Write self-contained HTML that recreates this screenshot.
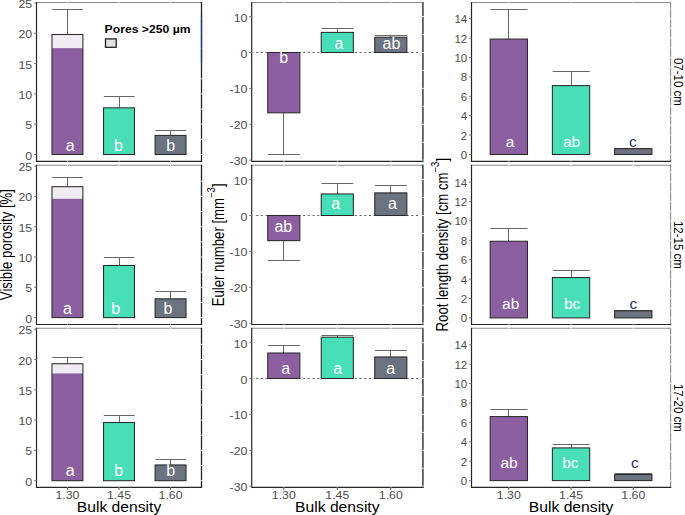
<!DOCTYPE html>
<html><head><meta charset="utf-8"><style>
html,body{margin:0;padding:0;background:#fff;}
svg{display:block;font-family:"Liberation Sans", sans-serif;}
</style></head><body>
<svg width="685" height="515" viewBox="0 0 685 515">
<rect width="685" height="515" fill="#fff"/>
<line x1="36.50" y1="2.50" x2="201.50" y2="2.50" stroke="#8a8a8a" stroke-width="1.1"/>
<line x1="201.50" y1="2.00" x2="201.50" y2="161.30" stroke="#222" stroke-width="1.3"/>
<line x1="67.44" y1="1.00" x2="67.44" y2="162.30" stroke="#fff" stroke-width="0.8"/>
<line x1="119.00" y1="1.00" x2="119.00" y2="162.30" stroke="#fff" stroke-width="0.8"/>
<line x1="170.56" y1="1.00" x2="170.56" y2="162.30" stroke="#fff" stroke-width="0.8"/>
<line x1="37.50" y1="154.50" x2="203.00" y2="154.50" stroke="#fff" stroke-width="0.8"/>
<line x1="37.50" y1="139.35" x2="203.00" y2="139.35" stroke="#fff" stroke-width="0.8"/>
<line x1="37.50" y1="124.20" x2="203.00" y2="124.20" stroke="#fff" stroke-width="0.8"/>
<line x1="37.50" y1="109.05" x2="203.00" y2="109.05" stroke="#fff" stroke-width="0.8"/>
<line x1="37.50" y1="93.90" x2="203.00" y2="93.90" stroke="#fff" stroke-width="0.8"/>
<line x1="37.50" y1="78.75" x2="203.00" y2="78.75" stroke="#fff" stroke-width="0.8"/>
<line x1="37.50" y1="63.60" x2="203.00" y2="63.60" stroke="#fff" stroke-width="0.8"/>
<line x1="37.50" y1="48.45" x2="203.00" y2="48.45" stroke="#fff" stroke-width="0.8"/>
<line x1="37.50" y1="33.30" x2="203.00" y2="33.30" stroke="#fff" stroke-width="0.8"/>
<line x1="37.50" y1="18.15" x2="203.00" y2="18.15" stroke="#fff" stroke-width="0.8"/>
<line x1="201.50" y1="15.5" x2="201.50" y2="64.5" stroke="#1d3a6e" stroke-width="1.3"/>
<line x1="67.50" y1="34.51" x2="67.50" y2="9.50" stroke="#686868" stroke-width="1.0"/>
<line x1="52.27" y1="9.50" x2="82.91" y2="9.50" stroke="#686868" stroke-width="1.0"/>
<rect x="51.97" y="34.51" width="30.94" height="119.99" fill="#F0ECF3"/>
<rect x="51.97" y="48.15" width="30.94" height="106.35" fill="#8C5FA0"/>
<rect x="51.97" y="34.51" width="30.94" height="119.99" fill="none" stroke="#2a2a2a" stroke-width="1.05"/>
<text transform="translate(70.14,150.60) scale(1.0,1)" font-size="16" text-anchor="middle" fill="#fff" font-weight="normal">a</text>
<line x1="119.50" y1="107.84" x2="119.50" y2="96.50" stroke="#686868" stroke-width="1.0"/>
<line x1="103.83" y1="96.50" x2="134.47" y2="96.50" stroke="#686868" stroke-width="1.0"/>
<rect x="103.53" y="107.84" width="30.94" height="46.66" fill="#48DFB8" stroke="#2a2a2a" stroke-width="1.05"/>
<text transform="translate(118.50,150.50) scale(1.0,1)" font-size="16" text-anchor="middle" fill="#fff" font-weight="normal">b</text>
<line x1="170.50" y1="135.41" x2="170.50" y2="130.50" stroke="#686868" stroke-width="1.0"/>
<line x1="155.39" y1="130.50" x2="186.03" y2="130.50" stroke="#686868" stroke-width="1.0"/>
<rect x="155.09" y="135.41" width="30.94" height="19.09" fill="#6B7280" stroke="#2a2a2a" stroke-width="1.05"/>
<text transform="translate(170.66,150.50) scale(1.0,1)" font-size="16" text-anchor="middle" fill="#fff" font-weight="normal">b</text>
<path d="M36.50,2.00V161.30H202.10" fill="none" stroke="#262626" stroke-width="1.2"/>
<line x1="67.44" y1="160.30" x2="67.44" y2="162.10" stroke="#fff" stroke-width="0.8" stroke-opacity="0.75"/>
<line x1="119.00" y1="160.30" x2="119.00" y2="162.10" stroke="#fff" stroke-width="0.8" stroke-opacity="0.75"/>
<line x1="170.56" y1="160.30" x2="170.56" y2="162.10" stroke="#fff" stroke-width="0.8" stroke-opacity="0.75"/>
<line x1="34.10" y1="154.50" x2="36.50" y2="154.50" stroke="#777" stroke-width="1"/>
<text transform="translate(32.20,159.50) scale(1.12,1)" font-size="11" text-anchor="end" fill="#4D4D4D" font-weight="normal">0</text>
<line x1="34.10" y1="124.20" x2="36.50" y2="124.20" stroke="#777" stroke-width="1"/>
<text transform="translate(32.20,129.20) scale(1.12,1)" font-size="11" text-anchor="end" fill="#4D4D4D" font-weight="normal">5</text>
<line x1="34.10" y1="93.90" x2="36.50" y2="93.90" stroke="#777" stroke-width="1"/>
<text transform="translate(32.20,98.90) scale(1.12,1)" font-size="11" text-anchor="end" fill="#4D4D4D" font-weight="normal">10</text>
<line x1="34.10" y1="63.60" x2="36.50" y2="63.60" stroke="#777" stroke-width="1"/>
<text transform="translate(32.20,68.60) scale(1.12,1)" font-size="11" text-anchor="end" fill="#4D4D4D" font-weight="normal">15</text>
<line x1="34.10" y1="33.30" x2="36.50" y2="33.30" stroke="#777" stroke-width="1"/>
<text transform="translate(32.20,38.30) scale(1.12,1)" font-size="11" text-anchor="end" fill="#4D4D4D" font-weight="normal">20</text>
<line x1="34.10" y1="3.00" x2="36.50" y2="3.00" stroke="#777" stroke-width="1"/>
<text transform="translate(32.20,8.00) scale(1.12,1)" font-size="11" text-anchor="end" fill="#4D4D4D" font-weight="normal">25</text>
<line x1="36.50" y1="165.20" x2="201.50" y2="165.20" stroke="#8a8a8a" stroke-width="1.1"/>
<line x1="201.50" y1="164.70" x2="201.50" y2="324.50" stroke="#222" stroke-width="1.3"/>
<line x1="67.44" y1="163.70" x2="67.44" y2="325.50" stroke="#fff" stroke-width="0.8"/>
<line x1="119.00" y1="163.70" x2="119.00" y2="325.50" stroke="#fff" stroke-width="0.8"/>
<line x1="170.56" y1="163.70" x2="170.56" y2="325.50" stroke="#fff" stroke-width="0.8"/>
<line x1="37.50" y1="317.60" x2="203.00" y2="317.60" stroke="#fff" stroke-width="0.8"/>
<line x1="37.50" y1="302.45" x2="203.00" y2="302.45" stroke="#fff" stroke-width="0.8"/>
<line x1="37.50" y1="287.30" x2="203.00" y2="287.30" stroke="#fff" stroke-width="0.8"/>
<line x1="37.50" y1="272.15" x2="203.00" y2="272.15" stroke="#fff" stroke-width="0.8"/>
<line x1="37.50" y1="257.00" x2="203.00" y2="257.00" stroke="#fff" stroke-width="0.8"/>
<line x1="37.50" y1="241.85" x2="203.00" y2="241.85" stroke="#fff" stroke-width="0.8"/>
<line x1="37.50" y1="226.70" x2="203.00" y2="226.70" stroke="#fff" stroke-width="0.8"/>
<line x1="37.50" y1="211.55" x2="203.00" y2="211.55" stroke="#fff" stroke-width="0.8"/>
<line x1="37.50" y1="196.40" x2="203.00" y2="196.40" stroke="#fff" stroke-width="0.8"/>
<line x1="37.50" y1="181.25" x2="203.00" y2="181.25" stroke="#fff" stroke-width="0.8"/>
<line x1="67.50" y1="186.70" x2="67.50" y2="177.50" stroke="#686868" stroke-width="1.0"/>
<line x1="52.27" y1="177.50" x2="82.91" y2="177.50" stroke="#686868" stroke-width="1.0"/>
<rect x="51.97" y="186.70" width="30.94" height="130.90" fill="#F0ECF3"/>
<rect x="51.97" y="198.82" width="30.94" height="118.78" fill="#8C5FA0"/>
<rect x="51.97" y="186.70" width="30.94" height="130.90" fill="none" stroke="#2a2a2a" stroke-width="1.05"/>
<text transform="translate(67.44,313.60) scale(1.0,1)" font-size="16" text-anchor="middle" fill="#fff" font-weight="normal">a</text>
<line x1="119.50" y1="265.48" x2="119.50" y2="257.50" stroke="#686868" stroke-width="1.0"/>
<line x1="103.83" y1="257.50" x2="134.47" y2="257.50" stroke="#686868" stroke-width="1.0"/>
<rect x="103.53" y="265.48" width="30.94" height="52.12" fill="#48DFB8" stroke="#2a2a2a" stroke-width="1.05"/>
<text transform="translate(115.70,313.60) scale(1.0,1)" font-size="16" text-anchor="middle" fill="#fff" font-weight="normal">b</text>
<line x1="170.50" y1="298.81" x2="170.50" y2="291.50" stroke="#686868" stroke-width="1.0"/>
<line x1="155.39" y1="291.50" x2="186.03" y2="291.50" stroke="#686868" stroke-width="1.0"/>
<rect x="155.09" y="298.81" width="30.94" height="18.79" fill="#6B7280" stroke="#2a2a2a" stroke-width="1.05"/>
<text transform="translate(168.06,313.80) scale(1.0,1)" font-size="16" text-anchor="middle" fill="#fff" font-weight="normal">b</text>
<path d="M36.50,164.70V324.50H202.10" fill="none" stroke="#262626" stroke-width="1.2"/>
<line x1="67.44" y1="323.50" x2="67.44" y2="325.30" stroke="#fff" stroke-width="0.8" stroke-opacity="0.75"/>
<line x1="119.00" y1="323.50" x2="119.00" y2="325.30" stroke="#fff" stroke-width="0.8" stroke-opacity="0.75"/>
<line x1="170.56" y1="323.50" x2="170.56" y2="325.30" stroke="#fff" stroke-width="0.8" stroke-opacity="0.75"/>
<line x1="34.10" y1="317.60" x2="36.50" y2="317.60" stroke="#777" stroke-width="1"/>
<text transform="translate(32.20,322.60) scale(1.12,1)" font-size="11" text-anchor="end" fill="#4D4D4D" font-weight="normal">0</text>
<line x1="34.10" y1="287.30" x2="36.50" y2="287.30" stroke="#777" stroke-width="1"/>
<text transform="translate(32.20,292.30) scale(1.12,1)" font-size="11" text-anchor="end" fill="#4D4D4D" font-weight="normal">5</text>
<line x1="34.10" y1="257.00" x2="36.50" y2="257.00" stroke="#777" stroke-width="1"/>
<text transform="translate(32.20,262.00) scale(1.12,1)" font-size="11" text-anchor="end" fill="#4D4D4D" font-weight="normal">10</text>
<line x1="34.10" y1="226.70" x2="36.50" y2="226.70" stroke="#777" stroke-width="1"/>
<text transform="translate(32.20,231.70) scale(1.12,1)" font-size="11" text-anchor="end" fill="#4D4D4D" font-weight="normal">15</text>
<line x1="34.10" y1="196.40" x2="36.50" y2="196.40" stroke="#777" stroke-width="1"/>
<text transform="translate(32.20,201.40) scale(1.12,1)" font-size="11" text-anchor="end" fill="#4D4D4D" font-weight="normal">20</text>
<line x1="34.10" y1="166.10" x2="36.50" y2="166.10" stroke="#777" stroke-width="1"/>
<text transform="translate(32.20,171.10) scale(1.12,1)" font-size="11" text-anchor="end" fill="#4D4D4D" font-weight="normal">25</text>
<line x1="36.50" y1="328.30" x2="201.50" y2="328.30" stroke="#8a8a8a" stroke-width="1.1"/>
<line x1="201.50" y1="327.80" x2="201.50" y2="487.40" stroke="#222" stroke-width="1.3"/>
<line x1="67.44" y1="326.80" x2="67.44" y2="488.40" stroke="#fff" stroke-width="0.8"/>
<line x1="119.00" y1="326.80" x2="119.00" y2="488.40" stroke="#fff" stroke-width="0.8"/>
<line x1="170.56" y1="326.80" x2="170.56" y2="488.40" stroke="#fff" stroke-width="0.8"/>
<line x1="37.50" y1="480.70" x2="203.00" y2="480.70" stroke="#fff" stroke-width="0.8"/>
<line x1="37.50" y1="465.55" x2="203.00" y2="465.55" stroke="#fff" stroke-width="0.8"/>
<line x1="37.50" y1="450.40" x2="203.00" y2="450.40" stroke="#fff" stroke-width="0.8"/>
<line x1="37.50" y1="435.25" x2="203.00" y2="435.25" stroke="#fff" stroke-width="0.8"/>
<line x1="37.50" y1="420.10" x2="203.00" y2="420.10" stroke="#fff" stroke-width="0.8"/>
<line x1="37.50" y1="404.95" x2="203.00" y2="404.95" stroke="#fff" stroke-width="0.8"/>
<line x1="37.50" y1="389.80" x2="203.00" y2="389.80" stroke="#fff" stroke-width="0.8"/>
<line x1="37.50" y1="374.65" x2="203.00" y2="374.65" stroke="#fff" stroke-width="0.8"/>
<line x1="37.50" y1="359.50" x2="203.00" y2="359.50" stroke="#fff" stroke-width="0.8"/>
<line x1="37.50" y1="344.35" x2="203.00" y2="344.35" stroke="#fff" stroke-width="0.8"/>
<line x1="67.50" y1="363.74" x2="67.50" y2="357.50" stroke="#686868" stroke-width="1.0"/>
<line x1="52.27" y1="357.50" x2="82.91" y2="357.50" stroke="#686868" stroke-width="1.0"/>
<rect x="51.97" y="363.74" width="30.94" height="116.96" fill="#F0ECF3"/>
<rect x="51.97" y="373.44" width="30.94" height="107.26" fill="#8C5FA0"/>
<rect x="51.97" y="363.74" width="30.94" height="116.96" fill="none" stroke="#2a2a2a" stroke-width="1.05"/>
<text transform="translate(70.24,475.80) scale(1.0,1)" font-size="16" text-anchor="middle" fill="#fff" font-weight="normal">a</text>
<line x1="119.50" y1="422.52" x2="119.50" y2="415.50" stroke="#686868" stroke-width="1.0"/>
<line x1="103.83" y1="415.50" x2="134.47" y2="415.50" stroke="#686868" stroke-width="1.0"/>
<rect x="103.53" y="422.52" width="30.94" height="58.18" fill="#48DFB8" stroke="#2a2a2a" stroke-width="1.05"/>
<text transform="translate(118.60,475.80) scale(1.0,1)" font-size="16" text-anchor="middle" fill="#fff" font-weight="normal">b</text>
<line x1="170.50" y1="464.94" x2="170.50" y2="459.50" stroke="#686868" stroke-width="1.0"/>
<line x1="155.39" y1="459.50" x2="186.03" y2="459.50" stroke="#686868" stroke-width="1.0"/>
<rect x="155.09" y="464.94" width="30.94" height="15.76" fill="#6B7280" stroke="#2a2a2a" stroke-width="1.05"/>
<text transform="translate(170.66,475.80) scale(1.0,1)" font-size="16" text-anchor="middle" fill="#fff" font-weight="normal">b</text>
<path d="M36.50,327.80V487.40H202.10" fill="none" stroke="#262626" stroke-width="1.2"/>
<line x1="67.44" y1="486.40" x2="67.44" y2="488.20" stroke="#fff" stroke-width="0.8" stroke-opacity="0.75"/>
<line x1="119.00" y1="486.40" x2="119.00" y2="488.20" stroke="#fff" stroke-width="0.8" stroke-opacity="0.75"/>
<line x1="170.56" y1="486.40" x2="170.56" y2="488.20" stroke="#fff" stroke-width="0.8" stroke-opacity="0.75"/>
<line x1="34.10" y1="480.70" x2="36.50" y2="480.70" stroke="#777" stroke-width="1"/>
<text transform="translate(32.20,485.70) scale(1.12,1)" font-size="11" text-anchor="end" fill="#4D4D4D" font-weight="normal">0</text>
<line x1="34.10" y1="450.40" x2="36.50" y2="450.40" stroke="#777" stroke-width="1"/>
<text transform="translate(32.20,455.40) scale(1.12,1)" font-size="11" text-anchor="end" fill="#4D4D4D" font-weight="normal">5</text>
<line x1="34.10" y1="420.10" x2="36.50" y2="420.10" stroke="#777" stroke-width="1"/>
<text transform="translate(32.20,425.10) scale(1.12,1)" font-size="11" text-anchor="end" fill="#4D4D4D" font-weight="normal">10</text>
<line x1="34.10" y1="389.80" x2="36.50" y2="389.80" stroke="#777" stroke-width="1"/>
<text transform="translate(32.20,394.80) scale(1.12,1)" font-size="11" text-anchor="end" fill="#4D4D4D" font-weight="normal">15</text>
<line x1="34.10" y1="359.50" x2="36.50" y2="359.50" stroke="#777" stroke-width="1"/>
<text transform="translate(32.20,364.50) scale(1.12,1)" font-size="11" text-anchor="end" fill="#4D4D4D" font-weight="normal">20</text>
<line x1="34.10" y1="329.20" x2="36.50" y2="329.20" stroke="#777" stroke-width="1"/>
<text transform="translate(32.20,334.20) scale(1.12,1)" font-size="11" text-anchor="end" fill="#4D4D4D" font-weight="normal">25</text>
<line x1="67.44" y1="487.40" x2="67.44" y2="489.80" stroke="#444" stroke-width="1"/>
<text transform="translate(67.44,498.60) scale(1.12,1)" font-size="11" text-anchor="middle" fill="#4D4D4D" font-weight="normal">1.30</text>
<line x1="119.00" y1="487.40" x2="119.00" y2="489.80" stroke="#444" stroke-width="1"/>
<text transform="translate(119.00,498.60) scale(1.12,1)" font-size="11" text-anchor="middle" fill="#4D4D4D" font-weight="normal">1.45</text>
<line x1="170.56" y1="487.40" x2="170.56" y2="489.80" stroke="#444" stroke-width="1"/>
<text transform="translate(170.56,498.60) scale(1.12,1)" font-size="11" text-anchor="middle" fill="#4D4D4D" font-weight="normal">1.60</text>
<text transform="translate(119.00,512.20) scale(1.12,1)" font-size="14" text-anchor="middle" fill="#000" font-weight="normal">Bulk density</text>
<line x1="251.70" y1="2.50" x2="422.90" y2="2.50" stroke="#8a8a8a" stroke-width="1.1"/>
<line x1="422.90" y1="2.00" x2="422.90" y2="161.30" stroke="#5c5c5c" stroke-width="1.8"/>
<line x1="283.80" y1="1.00" x2="283.80" y2="162.30" stroke="#fff" stroke-width="0.8"/>
<line x1="337.30" y1="1.00" x2="337.30" y2="162.30" stroke="#fff" stroke-width="0.8"/>
<line x1="390.80" y1="1.00" x2="390.80" y2="162.30" stroke="#fff" stroke-width="0.8"/>
<line x1="252.70" y1="160.20" x2="424.40" y2="160.20" stroke="#fff" stroke-width="0.8"/>
<line x1="252.70" y1="142.25" x2="424.40" y2="142.25" stroke="#fff" stroke-width="0.8"/>
<line x1="252.70" y1="124.30" x2="424.40" y2="124.30" stroke="#fff" stroke-width="0.8"/>
<line x1="252.70" y1="106.35" x2="424.40" y2="106.35" stroke="#fff" stroke-width="0.8"/>
<line x1="252.70" y1="88.40" x2="424.40" y2="88.40" stroke="#fff" stroke-width="0.8"/>
<line x1="252.70" y1="70.45" x2="424.40" y2="70.45" stroke="#fff" stroke-width="0.8"/>
<line x1="252.70" y1="52.50" x2="424.40" y2="52.50" stroke="#fff" stroke-width="0.8"/>
<line x1="252.70" y1="34.55" x2="424.40" y2="34.55" stroke="#fff" stroke-width="0.8"/>
<line x1="252.70" y1="16.60" x2="424.40" y2="16.60" stroke="#fff" stroke-width="0.8"/>
<line x1="256.10" y1="52.50" x2="419.40" y2="52.50" stroke="#666" stroke-width="1.1" stroke-dasharray="2.1,2.6"/>
<line x1="283.50" y1="112.81" x2="283.50" y2="154.50" stroke="#686868" stroke-width="1.0"/>
<line x1="268.05" y1="154.50" x2="299.85" y2="154.50" stroke="#686868" stroke-width="1.0"/>
<rect x="267.75" y="52.50" width="32.10" height="60.31" fill="#8C5FA0" stroke="#2a2a2a" stroke-width="1.05"/>
<text transform="translate(283.80,63.30) scale(1.0,1)" font-size="16" text-anchor="middle" fill="#fff" font-weight="normal">b</text>
<line x1="337.50" y1="32.40" x2="337.50" y2="28.50" stroke="#686868" stroke-width="1.0"/>
<line x1="321.55" y1="28.50" x2="353.35" y2="28.50" stroke="#686868" stroke-width="1.0"/>
<rect x="321.25" y="32.40" width="32.10" height="20.10" fill="#48DFB8" stroke="#2a2a2a" stroke-width="1.05"/>
<text transform="translate(339.00,48.90) scale(1.0,1)" font-size="16" text-anchor="middle" fill="#fff" font-weight="normal">a</text>
<line x1="390.50" y1="37.24" x2="390.50" y2="35.50" stroke="#686868" stroke-width="1.0"/>
<line x1="375.05" y1="35.50" x2="406.85" y2="35.50" stroke="#686868" stroke-width="1.0"/>
<rect x="374.75" y="37.24" width="32.10" height="15.26" fill="#6B7280" stroke="#2a2a2a" stroke-width="1.05"/>
<text transform="translate(391.50,48.90) scale(1.0,1)" font-size="16" text-anchor="middle" fill="#fff" font-weight="normal">ab</text>
<path d="M251.70,2.00V161.30H423.50" fill="none" stroke="#262626" stroke-width="1.2"/>
<line x1="283.80" y1="160.30" x2="283.80" y2="162.10" stroke="#fff" stroke-width="0.8" stroke-opacity="0.75"/>
<line x1="337.30" y1="160.30" x2="337.30" y2="162.10" stroke="#fff" stroke-width="0.8" stroke-opacity="0.75"/>
<line x1="390.80" y1="160.30" x2="390.80" y2="162.10" stroke="#fff" stroke-width="0.8" stroke-opacity="0.75"/>
<line x1="249.30" y1="160.20" x2="251.70" y2="160.20" stroke="#777" stroke-width="1"/>
<text transform="translate(247.40,165.20) scale(1.12,1)" font-size="11" text-anchor="end" fill="#4D4D4D" font-weight="normal">-30</text>
<line x1="249.30" y1="124.30" x2="251.70" y2="124.30" stroke="#777" stroke-width="1"/>
<text transform="translate(247.40,129.30) scale(1.12,1)" font-size="11" text-anchor="end" fill="#4D4D4D" font-weight="normal">-20</text>
<line x1="249.30" y1="88.40" x2="251.70" y2="88.40" stroke="#777" stroke-width="1"/>
<text transform="translate(247.40,93.40) scale(1.12,1)" font-size="11" text-anchor="end" fill="#4D4D4D" font-weight="normal">-10</text>
<line x1="249.30" y1="52.50" x2="251.70" y2="52.50" stroke="#777" stroke-width="1"/>
<text transform="translate(247.40,57.50) scale(1.12,1)" font-size="11" text-anchor="end" fill="#4D4D4D" font-weight="normal">0</text>
<line x1="249.30" y1="16.60" x2="251.70" y2="16.60" stroke="#777" stroke-width="1"/>
<text transform="translate(247.40,21.60) scale(1.12,1)" font-size="11" text-anchor="end" fill="#4D4D4D" font-weight="normal">10</text>
<line x1="251.70" y1="165.20" x2="422.90" y2="165.20" stroke="#8a8a8a" stroke-width="1.1"/>
<line x1="422.90" y1="164.70" x2="422.90" y2="324.50" stroke="#5c5c5c" stroke-width="1.8"/>
<line x1="283.80" y1="163.70" x2="283.80" y2="325.50" stroke="#fff" stroke-width="0.8"/>
<line x1="337.30" y1="163.70" x2="337.30" y2="325.50" stroke="#fff" stroke-width="0.8"/>
<line x1="390.80" y1="163.70" x2="390.80" y2="325.50" stroke="#fff" stroke-width="0.8"/>
<line x1="252.70" y1="323.20" x2="424.40" y2="323.20" stroke="#fff" stroke-width="0.8"/>
<line x1="252.70" y1="305.25" x2="424.40" y2="305.25" stroke="#fff" stroke-width="0.8"/>
<line x1="252.70" y1="287.30" x2="424.40" y2="287.30" stroke="#fff" stroke-width="0.8"/>
<line x1="252.70" y1="269.35" x2="424.40" y2="269.35" stroke="#fff" stroke-width="0.8"/>
<line x1="252.70" y1="251.40" x2="424.40" y2="251.40" stroke="#fff" stroke-width="0.8"/>
<line x1="252.70" y1="233.45" x2="424.40" y2="233.45" stroke="#fff" stroke-width="0.8"/>
<line x1="252.70" y1="215.50" x2="424.40" y2="215.50" stroke="#fff" stroke-width="0.8"/>
<line x1="252.70" y1="197.55" x2="424.40" y2="197.55" stroke="#fff" stroke-width="0.8"/>
<line x1="252.70" y1="179.60" x2="424.40" y2="179.60" stroke="#fff" stroke-width="0.8"/>
<line x1="256.10" y1="215.50" x2="419.40" y2="215.50" stroke="#666" stroke-width="1.1" stroke-dasharray="2.1,2.6"/>
<line x1="283.50" y1="240.63" x2="283.50" y2="260.50" stroke="#686868" stroke-width="1.0"/>
<line x1="268.05" y1="260.50" x2="299.85" y2="260.50" stroke="#686868" stroke-width="1.0"/>
<rect x="267.75" y="215.50" width="32.10" height="25.13" fill="#8C5FA0" stroke="#2a2a2a" stroke-width="1.05"/>
<text transform="translate(283.30,231.50) scale(1.0,1)" font-size="16" text-anchor="middle" fill="#fff" font-weight="normal">ab</text>
<line x1="337.50" y1="193.96" x2="337.50" y2="183.50" stroke="#686868" stroke-width="1.0"/>
<line x1="321.55" y1="183.50" x2="353.35" y2="183.50" stroke="#686868" stroke-width="1.0"/>
<rect x="321.25" y="193.96" width="32.10" height="21.54" fill="#48DFB8" stroke="#2a2a2a" stroke-width="1.05"/>
<text transform="translate(335.60,209.30) scale(1.0,1)" font-size="16" text-anchor="middle" fill="#fff" font-weight="normal">a</text>
<line x1="390.50" y1="192.88" x2="390.50" y2="185.50" stroke="#686868" stroke-width="1.0"/>
<line x1="375.05" y1="185.50" x2="406.85" y2="185.50" stroke="#686868" stroke-width="1.0"/>
<rect x="374.75" y="192.88" width="32.10" height="22.62" fill="#6B7280" stroke="#2a2a2a" stroke-width="1.05"/>
<text transform="translate(392.50,209.30) scale(1.0,1)" font-size="16" text-anchor="middle" fill="#fff" font-weight="normal">a</text>
<path d="M251.70,164.70V324.50H423.50" fill="none" stroke="#262626" stroke-width="1.2"/>
<line x1="283.80" y1="323.50" x2="283.80" y2="325.30" stroke="#fff" stroke-width="0.8" stroke-opacity="0.75"/>
<line x1="337.30" y1="323.50" x2="337.30" y2="325.30" stroke="#fff" stroke-width="0.8" stroke-opacity="0.75"/>
<line x1="390.80" y1="323.50" x2="390.80" y2="325.30" stroke="#fff" stroke-width="0.8" stroke-opacity="0.75"/>
<line x1="249.30" y1="323.20" x2="251.70" y2="323.20" stroke="#777" stroke-width="1"/>
<text transform="translate(247.40,328.20) scale(1.12,1)" font-size="11" text-anchor="end" fill="#4D4D4D" font-weight="normal">-30</text>
<line x1="249.30" y1="287.30" x2="251.70" y2="287.30" stroke="#777" stroke-width="1"/>
<text transform="translate(247.40,292.30) scale(1.12,1)" font-size="11" text-anchor="end" fill="#4D4D4D" font-weight="normal">-20</text>
<line x1="249.30" y1="251.40" x2="251.70" y2="251.40" stroke="#777" stroke-width="1"/>
<text transform="translate(247.40,256.40) scale(1.12,1)" font-size="11" text-anchor="end" fill="#4D4D4D" font-weight="normal">-10</text>
<line x1="249.30" y1="215.50" x2="251.70" y2="215.50" stroke="#777" stroke-width="1"/>
<text transform="translate(247.40,220.50) scale(1.12,1)" font-size="11" text-anchor="end" fill="#4D4D4D" font-weight="normal">0</text>
<line x1="249.30" y1="179.60" x2="251.70" y2="179.60" stroke="#777" stroke-width="1"/>
<text transform="translate(247.40,184.60) scale(1.12,1)" font-size="11" text-anchor="end" fill="#4D4D4D" font-weight="normal">10</text>
<line x1="251.70" y1="328.30" x2="422.90" y2="328.30" stroke="#8a8a8a" stroke-width="1.1"/>
<line x1="422.90" y1="327.80" x2="422.90" y2="487.40" stroke="#5c5c5c" stroke-width="1.8"/>
<line x1="283.80" y1="326.80" x2="283.80" y2="488.40" stroke="#fff" stroke-width="0.8"/>
<line x1="337.30" y1="326.80" x2="337.30" y2="488.40" stroke="#fff" stroke-width="0.8"/>
<line x1="390.80" y1="326.80" x2="390.80" y2="488.40" stroke="#fff" stroke-width="0.8"/>
<line x1="252.70" y1="486.20" x2="424.40" y2="486.20" stroke="#fff" stroke-width="0.8"/>
<line x1="252.70" y1="468.25" x2="424.40" y2="468.25" stroke="#fff" stroke-width="0.8"/>
<line x1="252.70" y1="450.30" x2="424.40" y2="450.30" stroke="#fff" stroke-width="0.8"/>
<line x1="252.70" y1="432.35" x2="424.40" y2="432.35" stroke="#fff" stroke-width="0.8"/>
<line x1="252.70" y1="414.40" x2="424.40" y2="414.40" stroke="#fff" stroke-width="0.8"/>
<line x1="252.70" y1="396.45" x2="424.40" y2="396.45" stroke="#fff" stroke-width="0.8"/>
<line x1="252.70" y1="378.50" x2="424.40" y2="378.50" stroke="#fff" stroke-width="0.8"/>
<line x1="252.70" y1="360.55" x2="424.40" y2="360.55" stroke="#fff" stroke-width="0.8"/>
<line x1="252.70" y1="342.60" x2="424.40" y2="342.60" stroke="#fff" stroke-width="0.8"/>
<line x1="256.10" y1="378.50" x2="419.40" y2="378.50" stroke="#666" stroke-width="1.1" stroke-dasharray="2.1,2.6"/>
<line x1="283.50" y1="353.01" x2="283.50" y2="345.50" stroke="#686868" stroke-width="1.0"/>
<line x1="268.05" y1="345.50" x2="299.85" y2="345.50" stroke="#686868" stroke-width="1.0"/>
<rect x="267.75" y="353.01" width="32.10" height="25.49" fill="#8C5FA0" stroke="#2a2a2a" stroke-width="1.05"/>
<text transform="translate(285.70,374.20) scale(1.0,1)" font-size="16" text-anchor="middle" fill="#fff" font-weight="normal">a</text>
<line x1="337.50" y1="337.22" x2="337.50" y2="335.50" stroke="#686868" stroke-width="1.0"/>
<line x1="321.55" y1="335.50" x2="353.35" y2="335.50" stroke="#686868" stroke-width="1.0"/>
<rect x="321.25" y="337.22" width="32.10" height="41.28" fill="#48DFB8" stroke="#2a2a2a" stroke-width="1.05"/>
<text transform="translate(337.70,374.20) scale(1.0,1)" font-size="16" text-anchor="middle" fill="#fff" font-weight="normal">a</text>
<line x1="390.50" y1="356.96" x2="390.50" y2="350.50" stroke="#686868" stroke-width="1.0"/>
<line x1="375.05" y1="350.50" x2="406.85" y2="350.50" stroke="#686868" stroke-width="1.0"/>
<rect x="374.75" y="356.96" width="32.10" height="21.54" fill="#6B7280" stroke="#2a2a2a" stroke-width="1.05"/>
<text transform="translate(390.60,374.20) scale(1.0,1)" font-size="16" text-anchor="middle" fill="#fff" font-weight="normal">a</text>
<path d="M251.70,327.80V487.40H423.50" fill="none" stroke="#262626" stroke-width="1.2"/>
<line x1="283.80" y1="486.40" x2="283.80" y2="488.20" stroke="#fff" stroke-width="0.8" stroke-opacity="0.75"/>
<line x1="337.30" y1="486.40" x2="337.30" y2="488.20" stroke="#fff" stroke-width="0.8" stroke-opacity="0.75"/>
<line x1="390.80" y1="486.40" x2="390.80" y2="488.20" stroke="#fff" stroke-width="0.8" stroke-opacity="0.75"/>
<line x1="249.30" y1="486.20" x2="251.70" y2="486.20" stroke="#777" stroke-width="1"/>
<text transform="translate(247.40,491.20) scale(1.12,1)" font-size="11" text-anchor="end" fill="#4D4D4D" font-weight="normal">-30</text>
<line x1="249.30" y1="450.30" x2="251.70" y2="450.30" stroke="#777" stroke-width="1"/>
<text transform="translate(247.40,455.30) scale(1.12,1)" font-size="11" text-anchor="end" fill="#4D4D4D" font-weight="normal">-20</text>
<line x1="249.30" y1="414.40" x2="251.70" y2="414.40" stroke="#777" stroke-width="1"/>
<text transform="translate(247.40,419.40) scale(1.12,1)" font-size="11" text-anchor="end" fill="#4D4D4D" font-weight="normal">-10</text>
<line x1="249.30" y1="378.50" x2="251.70" y2="378.50" stroke="#777" stroke-width="1"/>
<text transform="translate(247.40,383.50) scale(1.12,1)" font-size="11" text-anchor="end" fill="#4D4D4D" font-weight="normal">0</text>
<line x1="249.30" y1="342.60" x2="251.70" y2="342.60" stroke="#777" stroke-width="1"/>
<text transform="translate(247.40,347.60) scale(1.12,1)" font-size="11" text-anchor="end" fill="#4D4D4D" font-weight="normal">10</text>
<line x1="283.80" y1="487.40" x2="283.80" y2="489.80" stroke="#444" stroke-width="1"/>
<text transform="translate(283.80,498.60) scale(1.12,1)" font-size="11" text-anchor="middle" fill="#4D4D4D" font-weight="normal">1.30</text>
<line x1="337.30" y1="487.40" x2="337.30" y2="489.80" stroke="#444" stroke-width="1"/>
<text transform="translate(337.30,498.60) scale(1.12,1)" font-size="11" text-anchor="middle" fill="#4D4D4D" font-weight="normal">1.45</text>
<line x1="390.80" y1="487.40" x2="390.80" y2="489.80" stroke="#444" stroke-width="1"/>
<text transform="translate(390.80,498.60) scale(1.12,1)" font-size="11" text-anchor="middle" fill="#4D4D4D" font-weight="normal">1.60</text>
<text transform="translate(337.30,512.20) scale(1.12,1)" font-size="14" text-anchor="middle" fill="#000" font-weight="normal">Bulk density</text>
<line x1="471.50" y1="2.50" x2="670.60" y2="2.50" stroke="#8a8a8a" stroke-width="1.1"/>
<line x1="670.60" y1="2.00" x2="670.60" y2="161.30" stroke="#8a8a8a" stroke-width="1.1"/>
<line x1="508.83" y1="1.00" x2="508.83" y2="162.30" stroke="#fff" stroke-width="0.8"/>
<line x1="571.05" y1="1.00" x2="571.05" y2="162.30" stroke="#fff" stroke-width="0.8"/>
<line x1="633.27" y1="1.00" x2="633.27" y2="162.30" stroke="#fff" stroke-width="0.8"/>
<line x1="472.50" y1="154.50" x2="672.10" y2="154.50" stroke="#fff" stroke-width="0.8"/>
<line x1="472.50" y1="144.80" x2="672.10" y2="144.80" stroke="#fff" stroke-width="0.8"/>
<line x1="472.50" y1="135.10" x2="672.10" y2="135.10" stroke="#fff" stroke-width="0.8"/>
<line x1="472.50" y1="125.40" x2="672.10" y2="125.40" stroke="#fff" stroke-width="0.8"/>
<line x1="472.50" y1="115.70" x2="672.10" y2="115.70" stroke="#fff" stroke-width="0.8"/>
<line x1="472.50" y1="106.00" x2="672.10" y2="106.00" stroke="#fff" stroke-width="0.8"/>
<line x1="472.50" y1="96.30" x2="672.10" y2="96.30" stroke="#fff" stroke-width="0.8"/>
<line x1="472.50" y1="86.60" x2="672.10" y2="86.60" stroke="#fff" stroke-width="0.8"/>
<line x1="472.50" y1="76.90" x2="672.10" y2="76.90" stroke="#fff" stroke-width="0.8"/>
<line x1="472.50" y1="67.20" x2="672.10" y2="67.20" stroke="#fff" stroke-width="0.8"/>
<line x1="472.50" y1="57.50" x2="672.10" y2="57.50" stroke="#fff" stroke-width="0.8"/>
<line x1="472.50" y1="47.80" x2="672.10" y2="47.80" stroke="#fff" stroke-width="0.8"/>
<line x1="472.50" y1="38.10" x2="672.10" y2="38.10" stroke="#fff" stroke-width="0.8"/>
<line x1="472.50" y1="28.40" x2="672.10" y2="28.40" stroke="#fff" stroke-width="0.8"/>
<line x1="472.50" y1="18.70" x2="672.10" y2="18.70" stroke="#fff" stroke-width="0.8"/>
<line x1="472.50" y1="9.00" x2="672.10" y2="9.00" stroke="#fff" stroke-width="0.8"/>
<line x1="508.50" y1="39.07" x2="508.50" y2="9.50" stroke="#686868" stroke-width="1.0"/>
<line x1="490.47" y1="9.50" x2="527.50" y2="9.50" stroke="#686868" stroke-width="1.0"/>
<rect x="490.17" y="39.07" width="37.33" height="115.43" fill="#8C5FA0" stroke="#2a2a2a" stroke-width="1.05"/>
<text transform="translate(510.03,146.80) scale(1.0,1)" font-size="15.5" text-anchor="middle" fill="#fff" font-weight="normal">a</text>
<line x1="571.50" y1="85.63" x2="571.50" y2="71.50" stroke="#686868" stroke-width="1.0"/>
<line x1="552.68" y1="71.50" x2="589.72" y2="71.50" stroke="#686868" stroke-width="1.0"/>
<rect x="552.38" y="85.63" width="37.33" height="68.87" fill="#48DFB8" stroke="#2a2a2a" stroke-width="1.05"/>
<text transform="translate(571.55,146.80) scale(1.0,1)" font-size="15.5" text-anchor="middle" fill="#fff" font-weight="normal">ab</text>
<line x1="633.50" y1="148.68" x2="633.50" y2="148.50" stroke="#686868" stroke-width="1.0"/>
<line x1="614.90" y1="148.50" x2="651.93" y2="148.50" stroke="#686868" stroke-width="1.0"/>
<rect x="614.60" y="148.68" width="37.33" height="5.82" fill="#6B7280" stroke="#2a2a2a" stroke-width="1.05"/>
<text transform="translate(632.77,146.80) scale(1.0,1)" font-size="15.5" text-anchor="middle" fill="#1F3A6B" font-weight="normal">c</text>
<path d="M471.50,2.00V161.30H671.20" fill="none" stroke="#262626" stroke-width="1.2"/>
<line x1="508.83" y1="160.30" x2="508.83" y2="162.10" stroke="#fff" stroke-width="0.8" stroke-opacity="0.75"/>
<line x1="571.05" y1="160.30" x2="571.05" y2="162.10" stroke="#fff" stroke-width="0.8" stroke-opacity="0.75"/>
<line x1="633.27" y1="160.30" x2="633.27" y2="162.10" stroke="#fff" stroke-width="0.8" stroke-opacity="0.75"/>
<line x1="469.10" y1="154.50" x2="471.50" y2="154.50" stroke="#777" stroke-width="1"/>
<text transform="translate(467.20,158.90) scale(1.15,1)" font-size="10" text-anchor="end" fill="#4D4D4D" font-weight="normal">0</text>
<line x1="469.10" y1="135.10" x2="471.50" y2="135.10" stroke="#777" stroke-width="1"/>
<text transform="translate(467.20,139.50) scale(1.15,1)" font-size="10" text-anchor="end" fill="#4D4D4D" font-weight="normal">2</text>
<line x1="469.10" y1="115.70" x2="471.50" y2="115.70" stroke="#777" stroke-width="1"/>
<text transform="translate(467.20,120.10) scale(1.15,1)" font-size="10" text-anchor="end" fill="#4D4D4D" font-weight="normal">4</text>
<line x1="469.10" y1="96.30" x2="471.50" y2="96.30" stroke="#777" stroke-width="1"/>
<text transform="translate(467.20,100.70) scale(1.15,1)" font-size="10" text-anchor="end" fill="#4D4D4D" font-weight="normal">6</text>
<line x1="469.10" y1="76.90" x2="471.50" y2="76.90" stroke="#777" stroke-width="1"/>
<text transform="translate(467.20,81.30) scale(1.15,1)" font-size="10" text-anchor="end" fill="#4D4D4D" font-weight="normal">8</text>
<line x1="469.10" y1="57.50" x2="471.50" y2="57.50" stroke="#777" stroke-width="1"/>
<text transform="translate(467.20,61.90) scale(1.15,1)" font-size="10" text-anchor="end" fill="#4D4D4D" font-weight="normal">10</text>
<line x1="469.10" y1="38.10" x2="471.50" y2="38.10" stroke="#777" stroke-width="1"/>
<text transform="translate(467.20,42.50) scale(1.15,1)" font-size="10" text-anchor="end" fill="#4D4D4D" font-weight="normal">12</text>
<line x1="469.10" y1="18.70" x2="471.50" y2="18.70" stroke="#777" stroke-width="1"/>
<text transform="translate(467.20,23.10) scale(1.15,1)" font-size="10" text-anchor="end" fill="#4D4D4D" font-weight="normal">14</text>
<line x1="471.50" y1="165.20" x2="670.60" y2="165.20" stroke="#8a8a8a" stroke-width="1.1"/>
<line x1="670.60" y1="164.70" x2="670.60" y2="324.50" stroke="#8a8a8a" stroke-width="1.1"/>
<line x1="508.83" y1="163.70" x2="508.83" y2="325.50" stroke="#fff" stroke-width="0.8"/>
<line x1="571.05" y1="163.70" x2="571.05" y2="325.50" stroke="#fff" stroke-width="0.8"/>
<line x1="633.27" y1="163.70" x2="633.27" y2="325.50" stroke="#fff" stroke-width="0.8"/>
<line x1="472.50" y1="317.90" x2="672.10" y2="317.90" stroke="#fff" stroke-width="0.8"/>
<line x1="472.50" y1="308.20" x2="672.10" y2="308.20" stroke="#fff" stroke-width="0.8"/>
<line x1="472.50" y1="298.50" x2="672.10" y2="298.50" stroke="#fff" stroke-width="0.8"/>
<line x1="472.50" y1="288.80" x2="672.10" y2="288.80" stroke="#fff" stroke-width="0.8"/>
<line x1="472.50" y1="279.10" x2="672.10" y2="279.10" stroke="#fff" stroke-width="0.8"/>
<line x1="472.50" y1="269.40" x2="672.10" y2="269.40" stroke="#fff" stroke-width="0.8"/>
<line x1="472.50" y1="259.70" x2="672.10" y2="259.70" stroke="#fff" stroke-width="0.8"/>
<line x1="472.50" y1="250.00" x2="672.10" y2="250.00" stroke="#fff" stroke-width="0.8"/>
<line x1="472.50" y1="240.30" x2="672.10" y2="240.30" stroke="#fff" stroke-width="0.8"/>
<line x1="472.50" y1="230.60" x2="672.10" y2="230.60" stroke="#fff" stroke-width="0.8"/>
<line x1="472.50" y1="220.90" x2="672.10" y2="220.90" stroke="#fff" stroke-width="0.8"/>
<line x1="472.50" y1="211.20" x2="672.10" y2="211.20" stroke="#fff" stroke-width="0.8"/>
<line x1="472.50" y1="201.50" x2="672.10" y2="201.50" stroke="#fff" stroke-width="0.8"/>
<line x1="472.50" y1="191.80" x2="672.10" y2="191.80" stroke="#fff" stroke-width="0.8"/>
<line x1="472.50" y1="182.10" x2="672.10" y2="182.10" stroke="#fff" stroke-width="0.8"/>
<line x1="472.50" y1="172.40" x2="672.10" y2="172.40" stroke="#fff" stroke-width="0.8"/>
<line x1="508.50" y1="241.27" x2="508.50" y2="228.50" stroke="#686868" stroke-width="1.0"/>
<line x1="490.47" y1="228.50" x2="527.50" y2="228.50" stroke="#686868" stroke-width="1.0"/>
<rect x="490.17" y="241.27" width="37.33" height="76.63" fill="#8C5FA0" stroke="#2a2a2a" stroke-width="1.05"/>
<text transform="translate(510.73,308.80) scale(1.0,1)" font-size="15.5" text-anchor="middle" fill="#fff" font-weight="normal">ab</text>
<line x1="571.50" y1="277.55" x2="571.50" y2="270.50" stroke="#686868" stroke-width="1.0"/>
<line x1="552.68" y1="270.50" x2="589.72" y2="270.50" stroke="#686868" stroke-width="1.0"/>
<rect x="552.38" y="277.55" width="37.33" height="40.35" fill="#48DFB8" stroke="#2a2a2a" stroke-width="1.05"/>
<text transform="translate(572.15,308.80) scale(1.0,1)" font-size="15.5" text-anchor="middle" fill="#fff" font-weight="normal">bc</text>
<line x1="633.50" y1="310.82" x2="633.50" y2="310.50" stroke="#686868" stroke-width="1.0"/>
<line x1="614.90" y1="310.50" x2="651.93" y2="310.50" stroke="#686868" stroke-width="1.0"/>
<rect x="614.60" y="310.82" width="37.33" height="7.08" fill="#6B7280" stroke="#2a2a2a" stroke-width="1.05"/>
<text transform="translate(633.27,308.80) scale(1.0,1)" font-size="15.5" text-anchor="middle" fill="#1F3A6B" font-weight="normal">c</text>
<path d="M471.50,164.70V324.50H671.20" fill="none" stroke="#262626" stroke-width="1.2"/>
<line x1="508.83" y1="323.50" x2="508.83" y2="325.30" stroke="#fff" stroke-width="0.8" stroke-opacity="0.75"/>
<line x1="571.05" y1="323.50" x2="571.05" y2="325.30" stroke="#fff" stroke-width="0.8" stroke-opacity="0.75"/>
<line x1="633.27" y1="323.50" x2="633.27" y2="325.30" stroke="#fff" stroke-width="0.8" stroke-opacity="0.75"/>
<line x1="469.10" y1="317.90" x2="471.50" y2="317.90" stroke="#777" stroke-width="1"/>
<text transform="translate(467.20,322.30) scale(1.15,1)" font-size="10" text-anchor="end" fill="#4D4D4D" font-weight="normal">0</text>
<line x1="469.10" y1="298.50" x2="471.50" y2="298.50" stroke="#777" stroke-width="1"/>
<text transform="translate(467.20,302.90) scale(1.15,1)" font-size="10" text-anchor="end" fill="#4D4D4D" font-weight="normal">2</text>
<line x1="469.10" y1="279.10" x2="471.50" y2="279.10" stroke="#777" stroke-width="1"/>
<text transform="translate(467.20,283.50) scale(1.15,1)" font-size="10" text-anchor="end" fill="#4D4D4D" font-weight="normal">4</text>
<line x1="469.10" y1="259.70" x2="471.50" y2="259.70" stroke="#777" stroke-width="1"/>
<text transform="translate(467.20,264.10) scale(1.15,1)" font-size="10" text-anchor="end" fill="#4D4D4D" font-weight="normal">6</text>
<line x1="469.10" y1="240.30" x2="471.50" y2="240.30" stroke="#777" stroke-width="1"/>
<text transform="translate(467.20,244.70) scale(1.15,1)" font-size="10" text-anchor="end" fill="#4D4D4D" font-weight="normal">8</text>
<line x1="469.10" y1="220.90" x2="471.50" y2="220.90" stroke="#777" stroke-width="1"/>
<text transform="translate(467.20,225.30) scale(1.15,1)" font-size="10" text-anchor="end" fill="#4D4D4D" font-weight="normal">10</text>
<line x1="469.10" y1="201.50" x2="471.50" y2="201.50" stroke="#777" stroke-width="1"/>
<text transform="translate(467.20,205.90) scale(1.15,1)" font-size="10" text-anchor="end" fill="#4D4D4D" font-weight="normal">12</text>
<line x1="469.10" y1="182.10" x2="471.50" y2="182.10" stroke="#777" stroke-width="1"/>
<text transform="translate(467.20,186.50) scale(1.15,1)" font-size="10" text-anchor="end" fill="#4D4D4D" font-weight="normal">14</text>
<line x1="471.50" y1="328.30" x2="670.60" y2="328.30" stroke="#8a8a8a" stroke-width="1.1"/>
<line x1="670.60" y1="327.80" x2="670.60" y2="487.40" stroke="#8a8a8a" stroke-width="1.1"/>
<line x1="508.83" y1="326.80" x2="508.83" y2="488.40" stroke="#fff" stroke-width="0.8"/>
<line x1="571.05" y1="326.80" x2="571.05" y2="488.40" stroke="#fff" stroke-width="0.8"/>
<line x1="633.27" y1="326.80" x2="633.27" y2="488.40" stroke="#fff" stroke-width="0.8"/>
<line x1="472.50" y1="480.60" x2="672.10" y2="480.60" stroke="#fff" stroke-width="0.8"/>
<line x1="472.50" y1="470.90" x2="672.10" y2="470.90" stroke="#fff" stroke-width="0.8"/>
<line x1="472.50" y1="461.20" x2="672.10" y2="461.20" stroke="#fff" stroke-width="0.8"/>
<line x1="472.50" y1="451.50" x2="672.10" y2="451.50" stroke="#fff" stroke-width="0.8"/>
<line x1="472.50" y1="441.80" x2="672.10" y2="441.80" stroke="#fff" stroke-width="0.8"/>
<line x1="472.50" y1="432.10" x2="672.10" y2="432.10" stroke="#fff" stroke-width="0.8"/>
<line x1="472.50" y1="422.40" x2="672.10" y2="422.40" stroke="#fff" stroke-width="0.8"/>
<line x1="472.50" y1="412.70" x2="672.10" y2="412.70" stroke="#fff" stroke-width="0.8"/>
<line x1="472.50" y1="403.00" x2="672.10" y2="403.00" stroke="#fff" stroke-width="0.8"/>
<line x1="472.50" y1="393.30" x2="672.10" y2="393.30" stroke="#fff" stroke-width="0.8"/>
<line x1="472.50" y1="383.60" x2="672.10" y2="383.60" stroke="#fff" stroke-width="0.8"/>
<line x1="472.50" y1="373.90" x2="672.10" y2="373.90" stroke="#fff" stroke-width="0.8"/>
<line x1="472.50" y1="364.20" x2="672.10" y2="364.20" stroke="#fff" stroke-width="0.8"/>
<line x1="472.50" y1="354.50" x2="672.10" y2="354.50" stroke="#fff" stroke-width="0.8"/>
<line x1="472.50" y1="344.80" x2="672.10" y2="344.80" stroke="#fff" stroke-width="0.8"/>
<line x1="472.50" y1="335.10" x2="672.10" y2="335.10" stroke="#fff" stroke-width="0.8"/>
<line x1="508.50" y1="416.58" x2="508.50" y2="409.50" stroke="#686868" stroke-width="1.0"/>
<line x1="490.47" y1="409.50" x2="527.50" y2="409.50" stroke="#686868" stroke-width="1.0"/>
<rect x="490.17" y="416.58" width="37.33" height="64.02" fill="#8C5FA0" stroke="#2a2a2a" stroke-width="1.05"/>
<text transform="translate(509.03,468.30) scale(1.0,1)" font-size="15.5" text-anchor="middle" fill="#fff" font-weight="normal">ab</text>
<line x1="571.50" y1="447.91" x2="571.50" y2="444.50" stroke="#686868" stroke-width="1.0"/>
<line x1="552.68" y1="444.50" x2="589.72" y2="444.50" stroke="#686868" stroke-width="1.0"/>
<rect x="552.38" y="447.91" width="37.33" height="32.69" fill="#48DFB8" stroke="#2a2a2a" stroke-width="1.05"/>
<text transform="translate(570.35,468.30) scale(1.0,1)" font-size="15.5" text-anchor="middle" fill="#fff" font-weight="normal">bc</text>
<line x1="633.50" y1="474.49" x2="633.50" y2="473.50" stroke="#686868" stroke-width="1.0"/>
<line x1="614.90" y1="473.50" x2="651.93" y2="473.50" stroke="#686868" stroke-width="1.0"/>
<rect x="614.60" y="474.49" width="37.33" height="6.11" fill="#6B7280" stroke="#2a2a2a" stroke-width="1.05"/>
<text transform="translate(634.77,468.30) scale(1.0,1)" font-size="15.5" text-anchor="middle" fill="#1F3A6B" font-weight="normal">c</text>
<path d="M471.50,327.80V487.40H671.20" fill="none" stroke="#262626" stroke-width="1.2"/>
<line x1="508.83" y1="486.40" x2="508.83" y2="488.20" stroke="#fff" stroke-width="0.8" stroke-opacity="0.75"/>
<line x1="571.05" y1="486.40" x2="571.05" y2="488.20" stroke="#fff" stroke-width="0.8" stroke-opacity="0.75"/>
<line x1="633.27" y1="486.40" x2="633.27" y2="488.20" stroke="#fff" stroke-width="0.8" stroke-opacity="0.75"/>
<line x1="469.10" y1="480.60" x2="471.50" y2="480.60" stroke="#777" stroke-width="1"/>
<text transform="translate(467.20,485.00) scale(1.15,1)" font-size="10" text-anchor="end" fill="#4D4D4D" font-weight="normal">0</text>
<line x1="469.10" y1="461.20" x2="471.50" y2="461.20" stroke="#777" stroke-width="1"/>
<text transform="translate(467.20,465.60) scale(1.15,1)" font-size="10" text-anchor="end" fill="#4D4D4D" font-weight="normal">2</text>
<line x1="469.10" y1="441.80" x2="471.50" y2="441.80" stroke="#777" stroke-width="1"/>
<text transform="translate(467.20,446.20) scale(1.15,1)" font-size="10" text-anchor="end" fill="#4D4D4D" font-weight="normal">4</text>
<line x1="469.10" y1="422.40" x2="471.50" y2="422.40" stroke="#777" stroke-width="1"/>
<text transform="translate(467.20,426.80) scale(1.15,1)" font-size="10" text-anchor="end" fill="#4D4D4D" font-weight="normal">6</text>
<line x1="469.10" y1="403.00" x2="471.50" y2="403.00" stroke="#777" stroke-width="1"/>
<text transform="translate(467.20,407.40) scale(1.15,1)" font-size="10" text-anchor="end" fill="#4D4D4D" font-weight="normal">8</text>
<line x1="469.10" y1="383.60" x2="471.50" y2="383.60" stroke="#777" stroke-width="1"/>
<text transform="translate(467.20,388.00) scale(1.15,1)" font-size="10" text-anchor="end" fill="#4D4D4D" font-weight="normal">10</text>
<line x1="469.10" y1="364.20" x2="471.50" y2="364.20" stroke="#777" stroke-width="1"/>
<text transform="translate(467.20,368.60) scale(1.15,1)" font-size="10" text-anchor="end" fill="#4D4D4D" font-weight="normal">12</text>
<line x1="469.10" y1="344.80" x2="471.50" y2="344.80" stroke="#777" stroke-width="1"/>
<text transform="translate(467.20,349.20) scale(1.15,1)" font-size="10" text-anchor="end" fill="#4D4D4D" font-weight="normal">14</text>
<line x1="508.83" y1="487.40" x2="508.83" y2="489.80" stroke="#444" stroke-width="1"/>
<text transform="translate(508.83,498.60) scale(1.12,1)" font-size="11" text-anchor="middle" fill="#4D4D4D" font-weight="normal">1.30</text>
<line x1="571.05" y1="487.40" x2="571.05" y2="489.80" stroke="#444" stroke-width="1"/>
<text transform="translate(571.05,498.60) scale(1.12,1)" font-size="11" text-anchor="middle" fill="#4D4D4D" font-weight="normal">1.45</text>
<line x1="633.27" y1="487.40" x2="633.27" y2="489.80" stroke="#444" stroke-width="1"/>
<text transform="translate(633.27,498.60) scale(1.12,1)" font-size="11" text-anchor="middle" fill="#4D4D4D" font-weight="normal">1.60</text>
<text transform="translate(571.05,512.20) scale(1.12,1)" font-size="14" text-anchor="middle" fill="#000" font-weight="normal">Bulk density</text>
<text transform="translate(12.00,244.60) scale(1.18,1) rotate(-90)" font-size="13.2" text-anchor="middle" fill="#000" font-weight="normal">Visible porosity [%]</text>
<text transform="translate(223.60,244.90) scale(1.18,1) rotate(-90)" font-size="13.2" text-anchor="middle" fill="#000" font-weight="normal">Euler number [mm<tspan dy="-7" font-size="9.5">−3</tspan><tspan dy="7">]</tspan></text>
<text transform="translate(447.50,244.70) scale(1.18,1) rotate(-90)" font-size="13.2" text-anchor="middle" fill="#000" font-weight="normal">Root length density [cm cm<tspan dy="-7" font-size="9.5">−3</tspan><tspan dy="7">]</tspan></text>
<text transform="translate(674.00,81.90) scale(1.12,1) rotate(90)" font-size="11.5" text-anchor="middle" fill="#000" font-weight="normal">07-10 cm</text>
<text transform="translate(674.00,244.85) scale(1.12,1) rotate(90)" font-size="11.5" text-anchor="middle" fill="#000" font-weight="normal">12-15 cm</text>
<text transform="translate(674.00,407.85) scale(1.12,1) rotate(90)" font-size="11.5" text-anchor="middle" fill="#000" font-weight="normal">17-20 cm</text>
<text transform="translate(104.60,32.80) scale(1.22,1)" font-size="10" text-anchor="start" fill="#000" font-weight="bold">Pores &gt;250 µm</text>
<rect x="105.5" y="38.9" width="10.7" height="8.4" fill="#E3E3E3" stroke="#222" stroke-width="1.3"/>
</svg>
</body></html>
